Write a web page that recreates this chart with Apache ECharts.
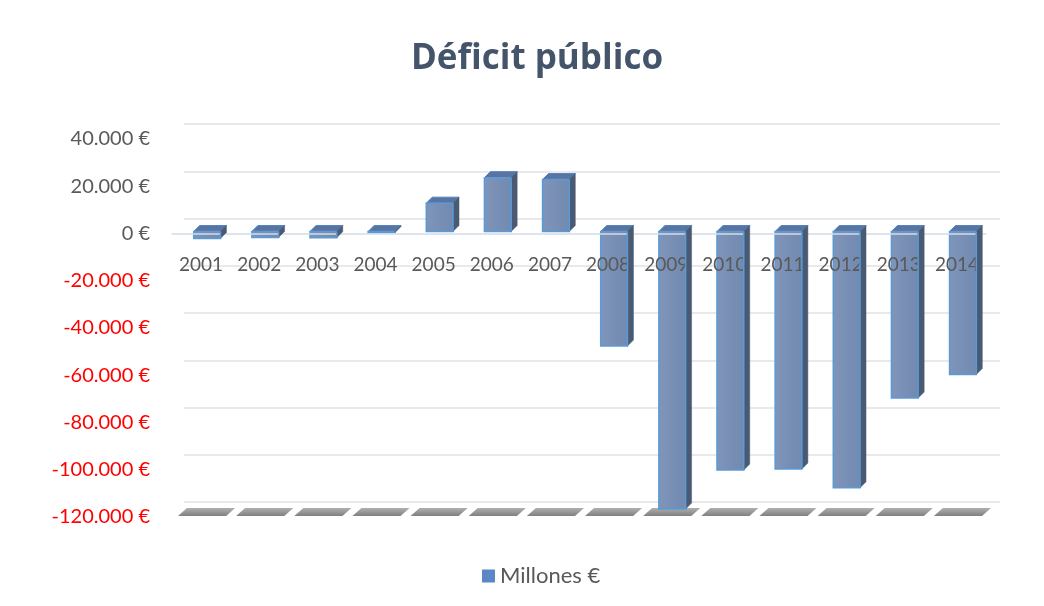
<!DOCTYPE html>
<html>
<head>
<meta charset="utf-8">
<script src="https://cdn.jsdelivr.net/npm/echarts@6/dist/echarts.min.js"></script>
<style>
html,body{margin:0;padding:0;background:#fff;}
#chart{width:1044px;height:606px;}
</style>
</head>
<body>
<div id="chart"></div>
<script>
const years = ['2001','2002','2003','2004','2005','2006','2007','2008','2009','2010','2011','2012','2013','2014'];
const deficit = [-3000, -2500, -2600, -500, 12000, 22800, 22000, -48500, -117500, -101000, -100500, -108500, -70500, -60500];
const seriesName = 'Millones €';
const yMin = -120000, yMax = 40000, yStep = 20000;

function fmtEuro(v) {
  const s = Math.abs(v).toString().replace(/\B(?=(\d{3})+(?!\d))/g, '.');
  return (v < 0 ? '-' : '') + s + ' €';
}

const chart = echarts.init(document.getElementById('chart'));

function barGeom(api) {
  const i = api.value(0), v = api.value(1);
  const base = api.coord([i, 0]);
  const top = api.coord([i, v]);
  const cw = api.size([1, 0])[0];
  const w = cw * 0.46, d = 6, shift = 6;
  const xl = base[0] - w / 2 + shift, xr = xl + w;
  const yTop = Math.min(base[1], top[1]) - 2, yBot = Math.max(base[1], top[1]) - 2;
  return { xl, xr, w, d, yTop, yBot };
}

function renderFront(params, api) {
  const g = barGeom(api);
  return {
    type: 'group',
    children: [
      { type: 'polygon', shape: { points: [[g.xl, g.yTop], [g.xl + g.d, g.yTop - g.d], [g.xr + g.d, g.yTop - g.d], [g.xr, g.yTop]] },
        style: { fill: '#5a73a0', stroke: '#4f86c6', lineWidth: 1 } },
      { type: 'rect', shape: { x: g.xl, y: g.yTop, width: g.w, height: Math.max(g.yBot - g.yTop, 0.5) },
        style: { fill: new echarts.graphic.LinearGradient(0, 0, 1, 0, [
            { offset: 0, color: '#7f95ba' }, { offset: 1, color: '#7289b0' }]),
          stroke: '#5b9bd5', lineWidth: 1.5 } }
    ]
  };
}

function renderSide(params, api) {
  const g = barGeom(api);
  return {
    type: 'group',
    children: [
      { type: 'polygon', shape: { points: [[g.xr, g.yTop], [g.xr + g.d, g.yTop - g.d], [g.xr + g.d, g.yBot - g.d], [g.xr, g.yBot]] },
        style: { fill: '#4a5a72', stroke: '#4a5a72', lineWidth: 0.5 } },
      { type: 'line', shape: { x1: g.xr, y1: g.yTop, x2: g.xr, y2: g.yBot },
        style: { stroke: '#5b9bd5', lineWidth: 1.5 } }
    ]
  };
}

function renderFloor(params, api) {
  const i = api.value(0);
  const p = api.coord([i, yMin]);
  const cw = api.size([1, 0])[0];
  const l = p[0] - cw / 2 + 6, r = p[0] + cw / 2 - 4;
  const y = p[1] - 1;
  return {
    type: 'polygon',
    shape: { points: [[l, y], [l + 9, y - 8], [r + 9, y - 8], [r, y]] },
    style: { fill: new echarts.graphic.LinearGradient(0, 0, 0, 1, [
        { offset: 0, color: '#b0b0b0' }, { offset: 1, color: '#808080' }]) }
  };
}

chart.setOption({
  backgroundColor: '#ffffff',
  animation: false,
  title: {
    text: 'Déficit público',
    left: 532,
    textAlign: 'center',
    top: 37,
    textStyle: { fontFamily: 'Open Sans', fontSize: 35, fontWeight: 'bold', color: '#44546a' }
  },
  legend: {
    data: [seriesName],
    bottom: 14,
    left: 477,
    icon: 'rect',
    itemWidth: 13,
    itemHeight: 13,
    itemGap: 4,
    textStyle: { fontFamily: 'Lato', fontSize: 22, color: '#595959' }
  },
  grid: [
    { left: 172, right: 58, top: 139, bottom: 89 },
    { left: 184, right: 44, top: 124, bottom: 104 },
    { left: 172, right: 58, top: 139, height: 94.5 }
  ],
  xAxis: [
    {
      type: 'category', data: years, gridIndex: 0,
      axisLine: { show: false },
      axisTick: { show: false },
      axisLabel: { show: false },
      splitLine: { show: false }
    },
    {
      type: 'category', data: years, gridIndex: 1, show: false
    },
    {
      type: 'category', data: years, gridIndex: 2, position: 'bottom', z: 2,
      axisLine: { show: true, lineStyle: { color: '#d3dbe6', width: 1.5 } },
      axisTick: { show: false },
      axisLabel: { margin: 22, fontFamily: 'Lato', fontSize: 19, color: '#595959' },
      splitLine: { show: false }
    }
  ],
  yAxis: [
    {
      type: 'value', gridIndex: 0, min: yMin, max: yMax, interval: yStep,
      axisLine: { show: false }, axisTick: { show: false },
      splitLine: { show: false },
      axisLabel: {
        margin: 22, fontFamily: 'Lato', fontSize: 20,
        formatter: function (v) { return v < 0 ? '{neg|' + fmtEuro(v) + '}' : '{pos|' + fmtEuro(v) + '}'; },
        rich: {
          neg: { color: '#ff0000', fontFamily: 'Lato', fontSize: 20 },
          pos: { color: '#595959', fontFamily: 'Lato', fontSize: 20 }
        }
      }
    },
    {
      type: 'value', gridIndex: 1, min: yMin, max: yMax, interval: yStep, z: 0,
      axisLine: { show: false }, axisTick: { show: false }, axisLabel: { show: false },
      splitLine: { show: true, lineStyle: { color: '#e2e2e2', width: 1.5 } }
    },
    {
      type: 'value', gridIndex: 2, min: 0, max: yMax, show: false, splitLine: { show: false }
    }
  ],
  series: [
    {
      name: 'floor', type: 'custom', xAxisIndex: 0, yAxisIndex: 0,
      renderItem: renderFloor, silent: true,
      data: years.map((y, i) => [i, yMin]), z: 1
    },
    {
      name: seriesName, type: 'custom', xAxisIndex: 0, yAxisIndex: 0,
      renderItem: renderFront,
      itemStyle: { color: '#5b87c5' },
      encode: { x: 0, y: 1 },
      data: deficit.map((v, i) => [i, v]), z: 1
    },
    {
      name: seriesName, type: 'custom', xAxisIndex: 0, yAxisIndex: 0,
      renderItem: renderSide,
      itemStyle: { color: '#5b87c5' },
      encode: { x: 0, y: 1 },
      data: deficit.map((v, i) => [i, v]), z: 3
    }
  ]
});
</script>
</body>
</html>
